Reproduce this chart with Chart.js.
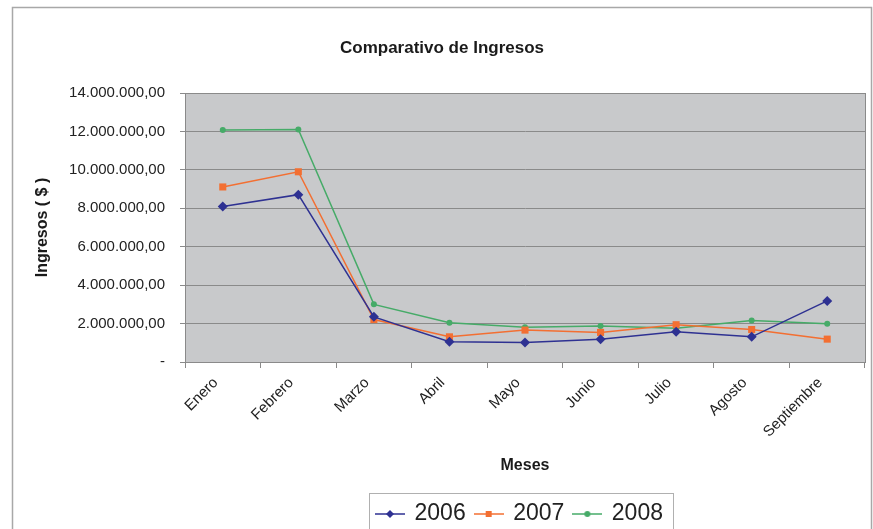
<!DOCTYPE html>
<html>
<head>
<meta charset="utf-8">
<script src="https://cdn.jsdelivr.net/npm/chart.js@4.4.0/dist/chart.umd.min.js"></script>
<style>
  html, body { margin: 0; padding: 0; background: #fff; }
  #wrap { width: 873px; height: 529px; }
</style>
</head>
<body>
<div id="wrap"><canvas id="myChart" width="873" height="529"></canvas></div>
<script>

// data
var meses = ['Enero', 'Febrero', 'Marzo', 'Abril', 'Mayo', 'Junio', 'Julio', 'Agosto', 'Septiembre'];
var ingresos2006 = [8090000, 8710000, 2350000, 1050000, 1020000, 1190000, 1570000, 1310000, 3180000];
var ingresos2007 = [9110000, 9900000, 2210000, 1310000, 1660000, 1540000, 1940000, 1690000, 1190000];
var ingresos2008 = [12070000, 12100000, 3000000, 2040000, 1810000, 1870000, 1760000, 2160000, 1990000];
var yTicks = [0, 2000000, 4000000, 6000000, 8000000, 10000000, 12000000, 14000000];

var azul = '#2e3192';
var naranja = '#f36f32';
var verde = '#46ab68';

function formatoPesos(v) {
  if (v === 0) return '-';
  var s = Math.round(v).toString().replace(/\B(?=(\d{3})+(?!\d))/g, '.');
  return s + ',00';
}

// little line+marker pictures for the legend
function iconoLeyenda(color, tipo) {
  var c = document.createElement('canvas');
  c.width = 30; c.height = 12;
  var g = c.getContext('2d');
  g.strokeStyle = color;
  g.fillStyle = color;
  g.lineWidth = 1.5;
  g.beginPath(); g.moveTo(0, 6); g.lineTo(30, 6); g.stroke();
  g.beginPath();
  if (tipo == 'diamond') {
    g.moveTo(15, 2); g.lineTo(19, 6); g.lineTo(15, 10); g.lineTo(11, 6); g.closePath(); g.fill();
  } else if (tipo == 'square') {
    g.fillRect(12, 3, 6, 6);
  } else {
    g.arc(15, 6, 3, 0, Math.PI * 2); g.fill();
  }
  return c;
}
var iconos = [iconoLeyenda(azul, 'diamond'), iconoLeyenda(naranja, 'square'), iconoLeyenda(verde, 'circle')];

var LEYENDA_DESPLAZ = 78;   // legend sits under the plot, not the whole chart
var LEYENDA_PAD = 10;

var fondoPlugin = {
  id: 'fondo',
  beforeDraw: function(chart) {
    var ctx = chart.ctx, a = chart.chartArea;
    var lg = chart.legend;
    if (!lg._movida) {
      lg.left += LEYENDA_DESPLAZ;
      lg.right += LEYENDA_DESPLAZ;
      lg._movida = true;
    }
    ctx.save();
    ctx.fillStyle = '#fff';
    ctx.fillRect(0, 0, chart.width, chart.height);
    ctx.strokeStyle = '#a8a8a8';
    ctx.lineWidth = 1.5;
    ctx.strokeRect(12.5, 7.5, 859, 560);
    ctx.fillStyle = '#c8c9cb';
    ctx.fillRect(a.left, a.top, a.right - a.left, a.bottom - a.top);
    ctx.restore();
  },
  beforeDatasetsDraw: function(chart) {
    var ctx = chart.ctx, a = chart.chartArea;
    ctx.save();
    ctx.strokeStyle = '#8a8a8a';
    ctx.lineWidth = 1;
    ctx.strokeRect(a.left + 0.5, a.top + 0.5, a.right - a.left, a.bottom - a.top);
    ctx.restore();
  },
  afterDraw: function(chart) {
    var lg = chart.legend;
    if (!lg.lineWidths) return;
    var ctx = chart.ctx;
    var ancho = lg.lineWidths[0];
    var inicio = (lg.left + LEYENDA_PAD + lg.right - ancho) / 2;
    var left = inicio - 8;
    var right = inicio + ancho - LEYENDA_PAD + 10;
    var top = lg.top + 0.5;
    ctx.save();
    ctx.strokeStyle = '#b0b0b0';
    ctx.lineWidth = 1;
    ctx.strokeRect(Math.round(left) + 0.5, Math.round(top) + 0.5, Math.round(right - left), 100);
    ctx.restore();
  }
};

var ctx = document.getElementById('myChart').getContext('2d');
var chart = new Chart(ctx, {
  type: 'line',
  data: {
    labels: meses,
    datasets: [{
      label: '2006',
      data: ingresos2006,
      borderColor: azul,
      backgroundColor: azul,
      borderWidth: 1.5,
      pointStyle: 'rectRot',
      pointRadius: 5,
      pointBorderWidth: 0
    }, {
      label: '2007',
      data: ingresos2007,
      borderColor: naranja,
      backgroundColor: naranja,
      borderWidth: 1.5,
      pointStyle: 'rect',
      pointRadius: 5,
      pointBorderWidth: 0
    }, {
      label: '2008',
      data: ingresos2008,
      borderColor: verde,
      backgroundColor: verde,
      borderWidth: 1.5,
      pointStyle: 'circle',
      pointRadius: 3,
      pointBorderWidth: 0
    }]
  },
  options: {
    responsive: false,
    animation: false,
    devicePixelRatio: 1,
    layout: { padding: { left: 19, right: 8, top: 0, bottom: -6.5 } },
    plugins: {
      title: {
        display: true,
        text: 'Comparativo de Ingresos',
        color: '#1a1a1a',
        font: { family: 'Liberation Sans', size: 17, weight: 'bold' },
        padding: { top: 38, bottom: 34.6 }
      },
      legend: {
        position: 'bottom',
        labels: {
          usePointStyle: true,
          pointStyleWidth: 26,
          padding: LEYENDA_PAD,
          color: '#222',
          font: { family: 'Liberation Sans', size: 23 },
          generateLabels: function(chart) {
            var items = Chart.defaults.plugins.legend.labels.generateLabels(chart);
            items.forEach(function(it, i) { it.pointStyle = iconos[i]; });
            return items;
          }
        }
      },
      tooltip: { enabled: false }
    },
    scales: {
      x: {
        offset: true,
        grid: { offset: true, drawOnChartArea: false, tickLength: 6, color: '#8a8a8a' },
        border: { color: '#8a8a8a' },
        ticks: {
          maxRotation: 45, minRotation: 45,
          labelOffset: -7,
          padding: 6,
          color: '#222',
          font: { family: 'Liberation Sans', size: 15 }
        },
        title: {
          display: true,
          text: 'Meses',
          color: '#1a1a1a',
          font: { family: 'Liberation Sans', size: 16, weight: 'bold' },
          padding: { top: 0, bottom: 17 }
        },
        afterFit: function(scale) { scale.height = 130.5; }
      },
      y: {
        min: 0,
        max: 14000000,
        afterBuildTicks: function(scale) {
          scale.ticks = yTicks.map(function(v) { return { value: v }; });
        },
        grid: { color: '#8a8a8a', tickLength: 5 },
        border: { color: '#8a8a8a' },
        ticks: {
          padding: 15,
          color: '#222',
          font: { family: 'Liberation Sans', size: 15 },
          callback: function(v) { return formatoPesos(v); }
        },
        title: {
          display: true,
          text: 'Ingresos ( $ )',
          color: '#1a1a1a',
          font: { family: 'Liberation Sans', size: 16, weight: 'bold' },
          padding: { top: 14, bottom: 0 }
        },
        afterFit: function(scale) { scale.width = 166; }
      }
    }
  },
  plugins: [fondoPlugin]
});
</script>
</body>
</html>
